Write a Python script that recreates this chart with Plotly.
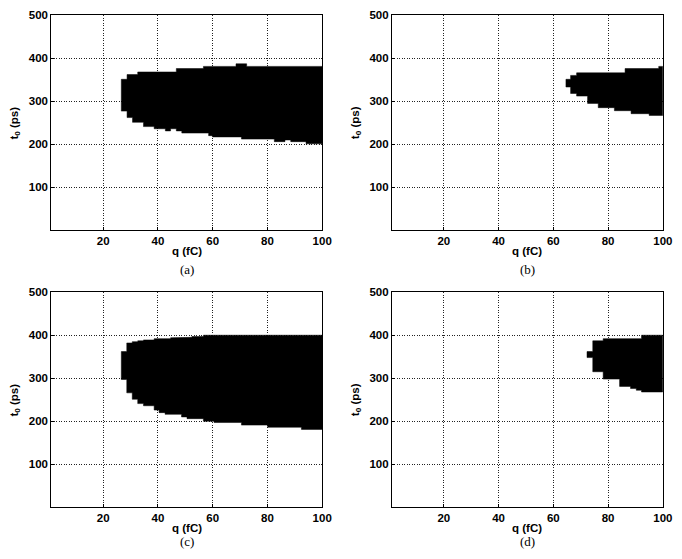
import plotly.graph_objects as go

# ---- data (q in fC, t0 in ps) ----
qa_edges = [26.6, 28.7, 30.7, 32.6, 34.7, 38.6, 42.7, 44.6, 46.7, 48.7, 56.6, 58.5, 59.9, 68.5, 70.5, 72.4, 82.5, 86.4, 88.5, 94.1, 100]
ta_top = [351, 362, 362, 368, 368, 368, 368, 368, 376, 376, 381, 381, 381, 387, 387, 381, 381, 381, 381, 381]
ta_bot = [277, 262, 251, 251, 241, 236, 231, 236, 231, 226, 226, 220, 217, 217, 212, 212, 206, 210, 206, 201]

qb_edges = [64.6, 66.3, 68.5, 72.5, 76.4, 82.3, 86.2, 88.4, 95.0, 98.5, 100]
tb_top = [351, 360, 366, 366, 366, 366, 376, 376, 376, 381]
tb_bot = [333, 318, 312, 295, 285, 278, 278, 271, 267, 267]

qc_edges = [26.6, 28.6, 30.6, 32.6, 34.7, 38.6, 40.4, 42.6, 44.6, 48.6, 50.6, 52.4, 56.6, 60.5, 70.5, 80.1, 92.4, 100]
tc_top = [362, 382, 385, 387, 389, 392, 392, 392, 394, 395, 395, 397, 400, 400, 400, 400, 400]
tc_bot = [297, 266, 251, 241, 236, 226, 220, 216, 216, 210, 206, 206, 200, 197, 191, 186, 181]

qd_edges = [72.3, 74.4, 78.2, 84.2, 88.2, 90.3, 92.2, 100]
td_top = [362, 387, 392, 392, 392, 392, 400]
td_bot = [348, 315, 298, 281, 276, 272, 268]

x_ticks = [20, 40, 60, 80, 100]
y_ticks = [100, 200, 300, 400, 500]
captions = ["(a)", "(b)", "(c)", "(d)"]

panels = [(qa_edges, ta_top, ta_bot), (qb_edges, tb_top, tb_bot),
          (qc_edges, tc_top, tc_bot), (qd_edges, td_top, td_bot)]

W, H = 682, 559
# plot areas in pixels: (left, right, top, bottom)
boxes = [(52, 327, 9.3, 226.7), (397.7, 672.7, 9.3, 226.7),
         (52, 327, 289.3, 506.7), (397.7, 672.7, 289.3, 506.7)]
cap_off = [40, 40, 35, 35]

SANS = "Liberation Sans"
SERIF = "Liberation Serif"

fig = go.Figure()
tickfont = dict(family=SANS, size=11.5, color="black", weight="bold")
titlefont = dict(family=SANS, size=11.5, color="black", weight="bold")
annotations = []
for i, ((edges, top, bot), (l, r, t, b)) in enumerate(zip(panels, boxes)):
    n = i + 1
    xa = "x" if n == 1 else f"x{n}"
    ya = "y" if n == 1 else f"y{n}"
    # step outline: along the top left->right, then bottom right->left
    px, py = [], []
    for k in range(len(top)):
        px += [edges[k], edges[k + 1]]
        py += [top[k], top[k]]
    for k in reversed(range(len(bot))):
        px += [edges[k + 1], edges[k]]
        py += [bot[k], bot[k]]
    px.append(px[0]); py.append(py[0])
    fig.add_trace(go.Scatter(x=px, y=py, mode="lines", fill="toself",
                             fillcolor="black", line=dict(color="black", width=0.5),
                             xaxis=xa, yaxis=ya, showlegend=False, hoverinfo="skip"))
    axcommon = dict(showgrid=True, gridcolor="#222", griddash="1px,1.5px", gridwidth=1,
                    showline=True, linecolor="black", linewidth=1, mirror=True,
                    ticks="inside", ticklen=3, tickcolor="black",
                    tickfont=tickfont, zeroline=False, fixedrange=True)
    xkey = "xaxis" if n == 1 else f"xaxis{n}"
    ykey = "yaxis" if n == 1 else f"yaxis{n}"
    fig.update_layout({
        xkey: dict(domain=[l / W, r / W], range=[1, 100], tickvals=x_ticks,
                   anchor=ya, **axcommon),
        ykey: dict(domain=[1 - b / H, 1 - t / H], range=[0, 500], tickvals=y_ticks,
                   anchor=xa, **axcommon),
    })
    cx = (l + r) / 2 / W
    annotations.append(dict(text="q (fC)", x=cx, y=1 - (b + 21) / H,
                            xref="paper", yref="paper", showarrow=False,
                            xanchor="center", yanchor="middle", font=titlefont))
    annotations.append(dict(text="t<sub>0</sub> (ps)", x=(l - 37) / W, y=1 - (t + b) / 2 / H,
                            xref="paper", yref="paper", showarrow=False, textangle=-90,
                            xanchor="center", yanchor="middle", font=titlefont))
    annotations.append(dict(text=captions[i], x=cx, y=1 - (b + cap_off[i]) / H,
                            xref="paper", yref="paper", showarrow=False,
                            xanchor="center", yanchor="middle",
                            font=dict(family=SERIF, size=13, color="black")))

fig.update_layout(width=W, height=H, margin=dict(l=0, r=0, t=0, b=0),
                  paper_bgcolor="white", plot_bgcolor="white",
                  annotations=annotations)
fig.write_html("out.html")
